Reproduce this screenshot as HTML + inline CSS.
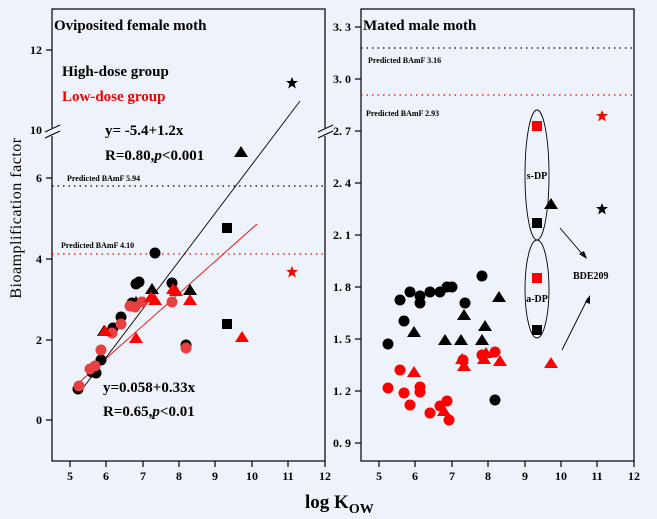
<!DOCTYPE html><html><head><style>body{margin:0;background:#eef2fa}svg{display:block}text{font-family:"Liberation Serif",serif}</style></head><body>
<svg width="657" height="519" viewBox="0 0 657 519" xmlns="http://www.w3.org/2000/svg">
<rect width="657" height="519" fill="#eef2fa"/>
<defs>
<circle id="c" r="5.5"/>
<path id="t" d="M0,-6L7,5H-7Z"/>
<rect id="s" x="-5" y="-5" width="10" height="10"/>
<path id="st" d="M0,-6L1.6,-2 6,-2 2.5,0.8 3.8,5.5 0,2.7 -3.8,5.5 -2.5,0.8 -6,-2 -1.6,-2Z"/>
</defs>
<g fill="none" stroke="#000" stroke-width="1.2">
<rect x="52" y="9" width="273" height="452"/>
<rect x="361" y="9" width="273" height="452"/>
</g>
<g stroke="#000" stroke-width="1.2">
<line x1="46" y1="420" x2="52" y2="420"/><line x1="46" y1="340" x2="52" y2="340"/><line x1="46" y1="259" x2="52" y2="259"/><line x1="46" y1="178" x2="52" y2="178"/><line x1="46" y1="50" x2="52" y2="50"/>
<line x1="70" y1="461" x2="70" y2="467"/><line x1="106" y1="461" x2="106" y2="467"/><line x1="143" y1="461" x2="143" y2="467"/><line x1="179" y1="461" x2="179" y2="467"/><line x1="215" y1="461" x2="215" y2="467"/><line x1="252" y1="461" x2="252" y2="467"/><line x1="288" y1="461" x2="288" y2="467"/><line x1="325" y1="461" x2="325" y2="467"/>
<line x1="379" y1="461" x2="379" y2="467"/><line x1="415" y1="461" x2="415" y2="467"/><line x1="452" y1="461" x2="452" y2="467"/><line x1="488" y1="461" x2="488" y2="467"/><line x1="525" y1="461" x2="525" y2="467"/><line x1="561" y1="461" x2="561" y2="467"/><line x1="597" y1="461" x2="597" y2="467"/><line x1="634" y1="461" x2="634" y2="467"/>
<line x1="355" y1="27" x2="361" y2="27"/><line x1="355" y1="79" x2="361" y2="79"/><line x1="355" y1="131" x2="361" y2="131"/><line x1="355" y1="183" x2="361" y2="183"/><line x1="355" y1="235" x2="361" y2="235"/><line x1="355" y1="287" x2="361" y2="287"/><line x1="355" y1="339" x2="361" y2="339"/><line x1="355" y1="391" x2="361" y2="391"/><line x1="355" y1="443" x2="361" y2="443"/>
</g>
<rect x="48" y="128" width="8" height="8" fill="#eef2fa"/><rect x="321" y="128" width="8" height="8" fill="#eef2fa"/>
<g stroke="#000" stroke-width="1"><line x1="45" y1="132" x2="60" y2="125"/><line x1="45" y1="138" x2="60" y2="131"/><line x1="318" y1="132" x2="333" y2="125"/><line x1="318" y1="138" x2="333" y2="131"/></g>
<g font-size="12" font-weight="bold" text-anchor="end">
<text x="42" y="424">0</text><text x="42" y="344">2</text><text x="42" y="263">4</text><text x="42" y="182">6</text><text x="42" y="134">10</text><text x="42" y="54">12</text>
<text x="351" y="31">3. 3</text><text x="351" y="83">3. 0</text><text x="351" y="135">2. 7</text><text x="351" y="187">2. 4</text><text x="351" y="239">2. 1</text><text x="351" y="291">1. 8</text><text x="351" y="343">1. 5</text><text x="351" y="395">1. 2</text><text x="351" y="447">0. 9</text>
</g>
<g font-size="12" font-weight="bold" text-anchor="middle">
<text x="70" y="480">5</text><text x="106" y="480">6</text><text x="143" y="480">7</text><text x="179" y="480">8</text><text x="215" y="480">9</text><text x="252" y="480">10</text><text x="288" y="480">11</text><text x="325" y="480">12</text>
<text x="379" y="480">5</text><text x="415" y="480">6</text><text x="452" y="480">7</text><text x="488" y="480">8</text><text x="525" y="480">9</text><text x="561" y="480">10</text><text x="597" y="480">11</text><text x="634" y="480">12</text>
</g>
<text x="305" y="508" font-size="19" font-weight="bold">log K<tspan font-size="14" dy="5">OW</tspan></text>
<text transform="translate(21,218) rotate(-90)" font-size="16" text-anchor="middle" letter-spacing="0.5">Bioamplification factor</text>
<g font-weight="bold">
<text x="54" y="30" font-size="15">Oviposited female moth</text>
<text x="62" y="76" font-size="15">High-dose group</text>
<text x="62" y="101" font-size="15" fill="#e00">Low-dose group</text>
<text x="105" y="135" font-size="15">y= -5.4+1.2x</text>
<text x="105" y="160" font-size="15">R=0.80,<tspan font-style="italic">p</tspan>&lt;0.001</text>
<text x="103" y="392" font-size="15">y=0.058+0.33x</text>
<text x="103" y="416" font-size="15">R=0.65,<tspan font-style="italic">p</tspan>&lt;0.01</text>
<text x="67" y="181" font-size="8">Predicted BAmF 5.94</text>
<text x="61" y="248" font-size="8">Predicted BAmF 4.10</text>
<text x="363" y="30" font-size="15">Mated male moth</text>
<text x="368" y="63" font-size="8">Predicted BAmF 3.16</text>
<text x="366" y="116" font-size="8">Predicted BAmF 2.93</text>
<text x="537" y="179" font-size="10" text-anchor="middle">s-DP</text>
<text x="537" y="302" font-size="10" text-anchor="middle">a-DP</text>
<text x="573" y="279" font-size="10">BDE209</text>
</g>
<g stroke-dasharray="1.5,4" stroke-width="1.2">
<line x1="52" y1="186" x2="325" y2="186" stroke="#000"/>
<line x1="52" y1="254" x2="325" y2="254" stroke="#e00"/>
<line x1="361" y1="48" x2="634" y2="48" stroke="#000"/>
<line x1="361" y1="95" x2="634" y2="95" stroke="#e00"/>
</g>
<line x1="80" y1="392" x2="300" y2="101" stroke="#000" stroke-width="0.9"/>
<line x1="74" y1="387" x2="257" y2="224" stroke="#e00" stroke-width="0.9"/>
<g fill="#000">
<use href="#c" x="78" y="389"/><use href="#c" x="92" y="372"/><use href="#c" x="96" y="373"/><use href="#c" x="101" y="360"/><use href="#c" x="111" y="332"/><use href="#c" x="113" y="328"/><use href="#c" x="121" y="317"/><use href="#c" x="136" y="284"/><use href="#c" x="139" y="282"/><use href="#c" x="132" y="303"/><use href="#c" x="172" y="283"/><use href="#c" x="186" y="345"/><use href="#c" x="155" y="253"/>
<use href="#t" x="104" y="331"/><use href="#t" x="136" y="302"/><use href="#t" x="152" y="289"/><use href="#t" x="190" y="290"/><use href="#t" x="241" y="152"/>
<use href="#s" x="227" y="228"/><use href="#s" x="227" y="324"/>
<use href="#st" x="292" y="83"/>
</g>
<g fill="#e84040">
<use href="#c" x="79" y="386"/><use href="#c" x="90" y="369"/><use href="#c" x="95" y="366"/><use href="#c" x="101" y="350"/><use href="#c" x="112" y="333"/><use href="#c" x="121" y="324"/><use href="#c" x="130" y="306"/><use href="#c" x="135" y="307"/><use href="#c" x="142" y="302"/><use href="#c" x="172" y="302"/><use href="#c" x="186" y="348"/>
</g>
<g fill="#f00">
<use href="#t" x="105" y="331"/><use href="#t" x="136" y="338"/><use href="#t" x="151" y="297"/><use href="#t" x="155" y="300"/><use href="#t" x="173" y="289"/><use href="#t" x="176" y="291"/><use href="#t" x="190" y="300"/><use href="#t" x="242" y="337"/>
<use href="#st" x="292" y="272"/>
</g>
<g fill="#000">
<use href="#c" x="388" y="344"/><use href="#c" x="400" y="300"/><use href="#c" x="404" y="321"/><use href="#c" x="410" y="292"/><use href="#c" x="420" y="296"/><use href="#c" x="420" y="303"/><use href="#c" x="430" y="292"/><use href="#c" x="440" y="292"/><use href="#c" x="447" y="287"/><use href="#c" x="452" y="287"/><use href="#c" x="465" y="303"/><use href="#c" x="482" y="276"/><use href="#c" x="495" y="400"/>
<use href="#t" x="414" y="332"/><use href="#t" x="445" y="340"/><use href="#t" x="461" y="340"/><use href="#t" x="464" y="315"/><use href="#t" x="482" y="340"/><use href="#t" x="485" y="326"/><use href="#t" x="499" y="297"/><use href="#t" x="551" y="204"/>
<use href="#s" x="537" y="223"/><use href="#s" x="537" y="330"/>
<use href="#st" x="602" y="209"/>
</g>
<g fill="#f00">
<use href="#c" x="388" y="388"/><use href="#c" x="400" y="370"/><use href="#c" x="404" y="393"/><use href="#c" x="410" y="405"/><use href="#c" x="420" y="387"/><use href="#c" x="420" y="392"/><use href="#c" x="430" y="413"/><use href="#c" x="440" y="406"/><use href="#c" x="447" y="401"/><use href="#c" x="449" y="420"/><use href="#c" x="463" y="360"/><use href="#c" x="482" y="355"/><use href="#c" x="495" y="352"/>
<use href="#t" x="414" y="372"/><use href="#t" x="462" y="359"/><use href="#t" x="464" y="366"/><use href="#t" x="484" y="359"/><use href="#t" x="486" y="353"/><use href="#t" x="500" y="361"/><use href="#t" x="551" y="363"/><use href="#t" x="444" y="411"/>
<use href="#s" x="537" y="126"/><use href="#s" x="537" y="278"/>
<use href="#st" x="602" y="116"/>
</g>
<g fill="none" stroke="#000" stroke-width="0.9">
<ellipse cx="537" cy="175" rx="12" ry="65"/>
<ellipse cx="537" cy="289" rx="12" ry="49"/>
<line x1="560" y1="228" x2="584" y2="256"/>
<line x1="562" y1="350" x2="588" y2="298"/>
</g>
<path d="M587,259L579,254 584,251Z" fill="#000"/>
<path d="M590,295L590,304 585,302Z" fill="#000"/>
</svg>
</body></html>
